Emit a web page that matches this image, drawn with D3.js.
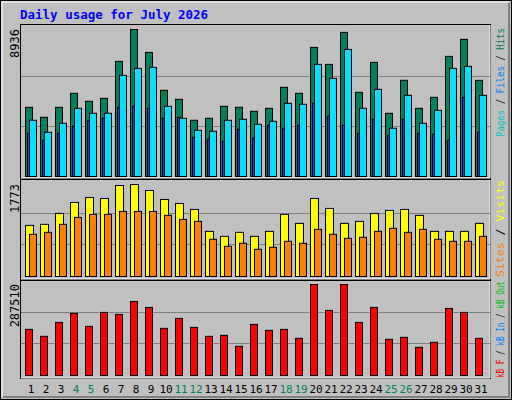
<!DOCTYPE html>
<html><head><meta charset="utf-8">
<script src="https://d3js.org/d3.v7.min.js"></script>
<style>body{margin:0;background:#fff}svg text{font-family:"DejaVu Sans Mono",monospace}</style>
</head><body><svg id="c" width="512" height="400"></svg>
<script>
const days = d3.range(1,32);
const weekend = [4,5,11,12,18,19,25,26];
const hits = [4207,3600,4207,5057,4571,4753,7000,8936,7546,5239,4692,3418,3539,4268,4207,3964,4146,5421,5057,7849,6817,8760,5117,6938,3843,5846,4146,4814,7303,8335,5846];
const files = [3418,2689,3236,4146,3843,3843,6149,6574,6635,4268,3539,2810,2750,3418,3478,3175,3357,4449,4389,6817,5967,7727,4146,5299,2932,4935,3236,4025,6574,6695,4935];
const pages = [2628,2203,2628,3053,3417,3539,4207,4267,4146,3539,3600,2386,2264,2143,2871,2325,3114,2932,3114,4449,3660,3114,2628,3478,2507,3478,2628,2568,2203,4813,2689];
const visits = [985,1005,1216,1427,1523,1504,1754,1773,1658,1485,1408,1293,870,774,851,774,870,1197,1024,1504,1312,1024,1062,1216,1274,1293,1178,870,870,870,1024];
const sites = [813,851,1005,1139,1197,1197,1254,1254,1254,1178,1101,1062,717,582,640,524,563,678,640,909,813,736,755,870,928,851,909,717,678,678,774];
const kbytes = [145800,123760,167840,196190,155250,199340,193040,233970,215080,148950,180440,152100,123760,126910,92270,161550,142650,145800,117460,287510,205630,287510,167840,215080,114310,120610,89120,104860,211930,199340,117460];

const svg = d3.select("#c");
svg.append("rect").attr("x",0.5).attr("y",0.5).attr("width",511).attr("height",399).attr("fill","#c0c0c0").attr("stroke","#000");
svg.append("path").attr("d","M2,397V2H509").attr("fill","none").attr("stroke","#fff");
svg.append("path").attr("d","M3,397H509V3").attr("fill","none").attr("stroke","#808080").attr("stroke-width",2);
svg.append("text").attr("x",20).attr("y",19).attr("fill","#0000ff").attr("font-weight","bold").attr("font-size",12.5).text("Daily usage for July 2026");

const x = d3.scaleBand().domain(days).range([23,488]).paddingInner(0);
function panel(y0,y1){
  svg.append("rect").attr("x",20.5).attr("y",y0+0.5).attr("width",470).attr("height",y1-y0).attr("fill","#c0c0c0").attr("stroke","#000");
  svg.append("path").attr("d",`M21,${y1}H490V${y0+1}`).attr("fill","none").attr("stroke","#fff");
}
function grid(base,top){
  [1,2].forEach(k=>{const gy=Math.round(base-(base-top)*k/3)+0.5;
    svg.append("line").attr("x1",21).attr("x2",490).attr("y1",gy).attr("y2",gy).attr("stroke","#808080");});
}
function bars(data,y,off,w,color){
  svg.append("g").selectAll("rect").data(data).enter().append("rect")
    .attr("x",(d,i)=>x(days[i])+off+0.5).attr("width",w)
    .attr("y",d=>y(d)+0.5).attr("height",d=>y(0)-y(d))
    .attr("fill",color).attr("stroke","#000");
}
function ylabel(txt,px,py){
  svg.append("text").attr("transform",`translate(${px},${py}) rotate(-90)`).attr("text-anchor","end").attr("font-size",12).attr("fill","#000").text(txt);
}
function legend(parts,px,py,len){
  const t=svg.append("text").attr("transform",`translate(${px},${py}) rotate(-90)`).attr("font-size",10)
    .attr("textLength",len).attr("lengthAdjust","spacingAndGlyphs");
  parts.forEach(p=>t.append("tspan").attr("fill",p[1]).text(p[0]));
}
panel(24,178);
const y1 = d3.scaleLinear().domain([0,8936]).range([176,29]);
grid(176,26);
bars(hits,y1,2,7,"#00805c");
bars(pages,y1,4,3,"#0040ff");
bars(files,y1,6,7,"#00e0ff");
ylabel("8936",19,29);
legend([["Pages","#00c0c0"],[" / ","#000"],["Files","#0080ff"],[" / ","#000"],["Hits","#00805c"]],504,137,109);
panel(179,279);
const y2 = d3.scaleLinear().domain([0,1773]).range([276,184]);
grid(276,181);
bars(visits,y2,2,8,"#ffff00");
bars(sites,y2,6,7,"#ff8000");
ylabel("1773",19,184);
legend([["Sites","#ff8000"],[" / ","#000"],["Visits","#ffff00"]],504,277,97);
panel(280,378);
const y3 = d3.scaleLinear().domain([0,287510]).range([375,284]);
grid(375,280);
bars(kbytes,y3,2,7,"#ff0000");
ylabel("287510",19,284);
legend([["kB F","#ff0000"],[" / ","#000"],["kB In","#0080ff"],[" / ","#000"],["kB Out","#00c000"]],504,378,97);
svg.append("g").selectAll("text").data(days).enter().append("text")
  .attr("x",d=>x(d)+x.bandwidth()/2+0.5).attr("y",393).attr("text-anchor","middle").attr("font-size",11)
  .attr("fill",d=>weekend.includes(d)?"#00805c":"#000").text(d=>d);
</script></body></html>
